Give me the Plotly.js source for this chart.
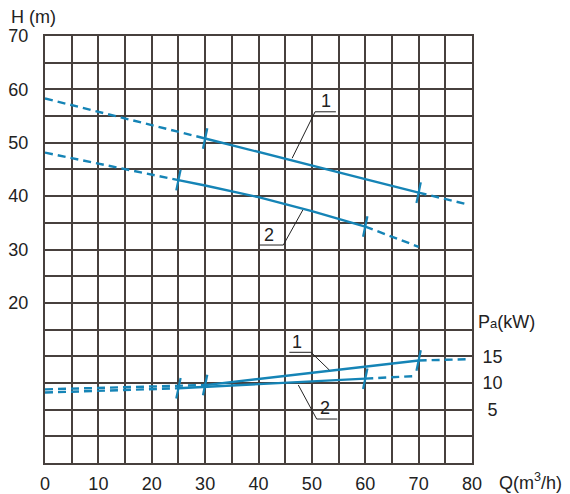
<!DOCTYPE html>
<html>
<head>
<meta charset="utf-8">
<script src="https://cdn.plot.ly/plotly-3.0.1.min.js"></script>
<style>html,body{margin:0;padding:0;background:#fff;}#chart{width:570px;height:494px;}</style>
</head>
<body>
<div id="chart"></div>
<script>
// ---- data ----
const xTickVals = [0,5,10,15,20,25,30,35,40,45,50,55,60,65,70,75,80];
const xTickText = ["0","","10","","20","","30","","40","","50","","60","","70","","80"];
const hTickVals = [-10,-5,0,5,10,15,20,25,30,35,40,45,50,55,60,65,70];
const hTickText = ["","","","","","","20","","30","","40","","50","","60","","70"];
const pTickVals = [5,10,15];
const pTickText = ["\u00a05","10","15"];

// Head curve 1
const qH1 = [0,10,20,30,40,50,60,70,79];
const H1  = [58.3,55.8,53.3,50.8,48.3,45.8,43.2,40.65,38.5];
const H1_solid = [30,70];
// Head curve 2
const qH2 = [0,10,20,25,30,40,50,60,70];
const H2  = [48.15,46.1,44.0,43.0,42.0,39.8,37.2,34.3,30.5];
const H2_solid = [25,60];
// Power curve 1
const qP1 = [0,10,20,30,40,50,60,70,79];
const P1  = [8.8,9.05,9.3,9.6,10.75,11.9,13.05,14.2,14.45];
const P1_solid = [30,70];
// Power curve 2
const qP2 = [0,10,20,25,30,40,50,60,69.5];
const P2  = [8.2,8.5,8.8,9.0,9.25,9.8,10.3,10.8,11.3];
const P2_solid = [25,60];

// ---- styling ----
const C = "#1584b6";
const GRID = "#47403d";
const FONT = "Arial, 'Liberation Sans', sans-serif";

function split(q, v, rng) {
  const L = {x:[],y:[]}, S = {x:[],y:[]}, R = {x:[],y:[]};
  q.forEach((qq,i)=>{
    if (qq <= rng[0]) { L.x.push(qq); L.y.push(v[i]); }
    if (qq >= rng[0] && qq <= rng[1]) { S.x.push(qq); S.y.push(v[i]); }
    if (qq >= rng[1]) { R.x.push(qq); R.y.push(v[i]); }
  });
  return [L,S,R];
}
const traces = [];
function addCurve(q, v, rng, yaxis) {
  const [L,S,R] = split(q,v,rng);
  [[L,'8px,5px'],[S,'solid'],[R,'8px,5px']].forEach(([d,dash])=>{
    if (d.x.length>1) traces.push({x:d.x,y:d.y,yaxis:yaxis,type:'scatter',mode:'lines',
      line:{color:C,width:2.4,dash:dash},hoverinfo:'skip',showlegend:false});
  });
  traces.push({x:[S.x[0],S.x[S.x.length-1]],y:[S.y[0],S.y[S.y.length-1]],yaxis:yaxis,
    type:'scatter',mode:'markers',hoverinfo:'skip',showlegend:false,
    marker:{symbol:'line-ns',size:15,angle:12,color:C,line:{color:C,width:2.2}}});
}
addCurve(qH1,H1,H1_solid,'y');
addCurve(qH2,H2,H2_solid,'y');
addCurve(qP1,P1,P1_solid,'y2');
addCurve(qP2,P2,P2_solid,'y2');

const leader = (x0,y0,x1,y1)=>({type:'line',xref:'x',yref:'y',x0,y0,x1,y1,line:{color:'#222',width:1}});
const shapes = [
  // label 1 (head)
  leader(50.6,55.8,54.5,55.8), leader(50.6,55.8,46.3,47.1),
  // label 2 (head)
  leader(40.15,30.84,44.65,30.84), leader(44.65,30.84,48.3,37.4),
  // label 1 (power)
  leader(45.77,10.74,49.84,10.74), leader(49.84,10.74,53.27,7.42),
  // label 2 (power)
  leader(50.9,-1.76,54.76,-1.76), leader(50.9,-1.76,47.46,4.61)
];

const lblFont = {family:FONT,size:18,color:'#222'};
const annotations = [
  {xref:'x',yref:'y',x:52.6,y:57.9,text:'1',showarrow:false,font:lblFont},
  {xref:'x',yref:'y',x:41.9,y:32.7,text:'2',showarrow:false,font:lblFont},
  {xref:'x',yref:'y',x:47.3,y:12.73,text:'1',showarrow:false,font:lblFont},
  {xref:'x',yref:'y',x:52.5,y:0.25,text:'2',showarrow:false,font:lblFont},
  {xref:'paper',yref:'paper',x:-0.084,y:1.044,xanchor:'left',yanchor:'middle',
   text:'H (m)',showarrow:false,font:lblFont},
  {xref:'paper',yref:'paper',x:1.0094,y:0.331,xanchor:'left',yanchor:'middle',
   text:"P<span style='font-size:13px'>a</span>(kW)",showarrow:false,font:lblFont},
  {xref:'paper',yref:'paper',x:1.0585,y:-0.043,xanchor:'left',yanchor:'middle',
   text:'Q(m<sup>3</sup>/h)',showarrow:false,font:lblFont}
];

const layout = {
  width:570,height:494,
  margin:{l:45,r:98,t:36,b:31,pad:0},
  paper_bgcolor:'#fff',plot_bgcolor:'#fff',
  font:{family:FONT,size:18,color:'#222'},
  showlegend:false,
  xaxis:{range:[0,80],tickmode:'array',tickvals:xTickVals,ticktext:xTickText,
    showgrid:true,gridcolor:GRID,gridwidth:2,zeroline:false,
    showline:true,linecolor:GRID,linewidth:2,mirror:true,
    ticks:'outside',ticklen:3,tickcolor:'rgba(0,0,0,0)',tickfont:{size:18,color:'#222'}},
  yaxis:{range:[-10,70],tickmode:'array',tickvals:hTickVals,ticktext:hTickText,
    showgrid:true,gridcolor:GRID,gridwidth:2,zeroline:false,
    showline:true,linecolor:GRID,linewidth:2,mirror:true,
    ticks:'outside',ticklen:11,tickcolor:'rgba(0,0,0,0)',tickfont:{size:18,color:'#222'}},
  yaxis2:{range:[-5,75],overlaying:'y',side:'right',tickmode:'array',
    tickvals:pTickVals,ticktext:pTickText,showgrid:false,zeroline:false,showline:false,
    ticks:'outside',ticklen:6,tickcolor:'rgba(0,0,0,0)',tickfont:{size:18,color:'#222'}},
  shapes:shapes,
  annotations:annotations
};

Plotly.newPlot('chart',traces,layout,{displayModeBar:false,staticPlot:true});
</script>
</body>
</html>
